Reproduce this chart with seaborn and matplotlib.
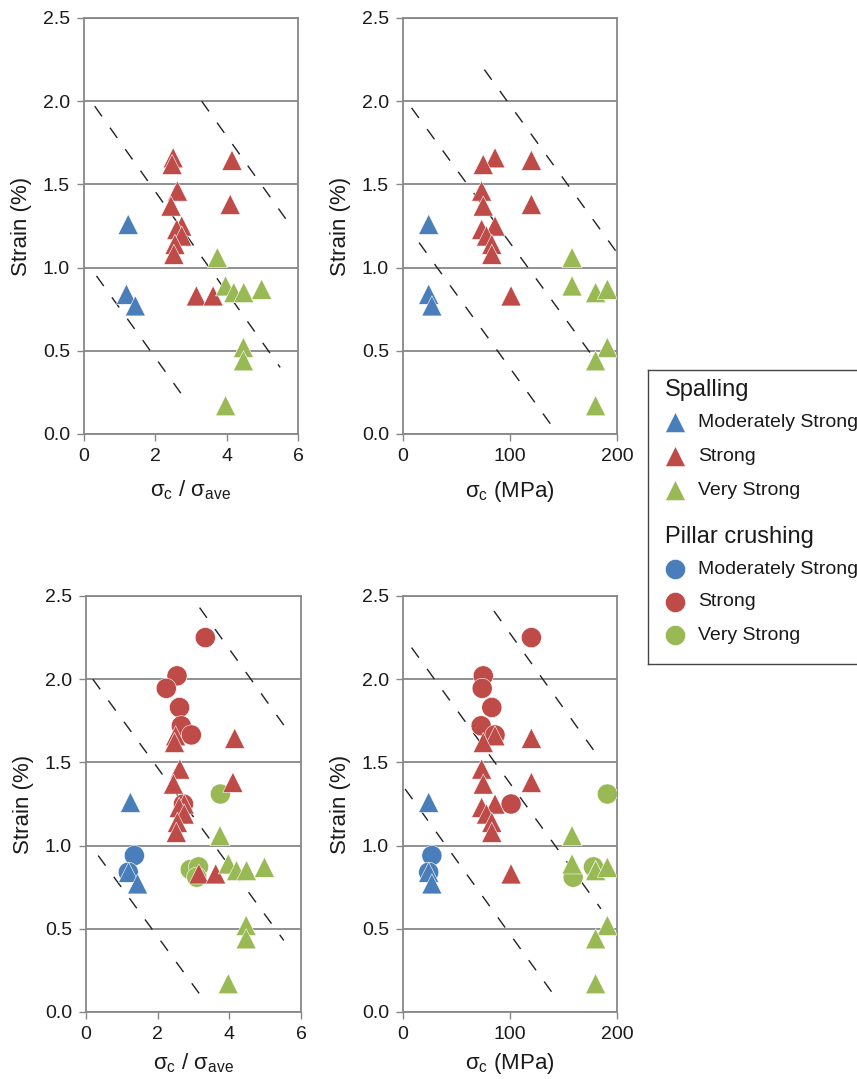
import numpy as np
import pandas as pd
import seaborn as sns
import matplotlib.pyplot as plt

classes = ['Moderately Strong', 'Strong', 'Very Strong']
palette = {'Moderately Strong': '#4A7EBB', 'Strong': '#BE4B48', 'Very Strong': '#98B954'}

# spalling cases
spall_class = (['Moderately Strong'] * 3 + ['Strong'] * 13 + ['Very Strong'] * 8)
spall_ratio = [1.24, 1.19, 1.44,
               2.50, 2.47, 4.15, 2.62, 2.44, 4.10, 2.74, 2.60, 2.74, 2.55, 2.52, 3.15, 3.62,
               3.74, 3.97, 4.20, 4.48, 4.98, 4.47, 4.47, 3.97]
spall_ucs = [24, 24, 27,
             86, 75, 120, 73.5, 75, 120, 86, 73.5, 78, 83, 83, 101, 101,
             158, 158, 180, 180, 191, 191, 180, 180]
spall_strain = [1.26, 0.84, 0.77,
                1.66, 1.62, 1.645, 1.46, 1.37, 1.38, 1.25, 1.23, 1.19, 1.14, 1.08, 0.83, 0.83,
                1.06, 0.89, 0.85, 0.85, 0.87, 0.52, 0.44, 0.17]

# pillar crushing cases
crush_class = (['Moderately Strong'] * 2 + ['Strong'] * 7 + ['Very Strong'] * 4)
crush_ratio = [1.35, 1.18,
               3.33, 2.54, 2.24, 2.61, 2.66, 2.94, 2.72,
               3.75, 2.91, 3.14, 3.09]
crush_ucs = [27, 24,
             120, 75, 74, 83, 73, 86, 101,
             191, 180, 178, 159]
crush_strain = [0.94, 0.84,
                2.25, 2.02, 1.945, 1.83, 1.72, 1.665, 1.25,
                1.31, 0.856, 0.872, 0.81]

# dashed guide lines per panel: (x0, y0, x1, y1)
guides_tl = [(0.3, 1.97, 5.5, 0.40), (0.35, 0.95, 2.9, 0.19), (3.3, 2.0, 5.8, 1.25)]
guides_tr = [(8, 1.96, 186, 0.39), (15, 1.15, 139, 0.05), (76, 2.19, 200, 1.09)]
guides_bl = [(0.19, 2.0, 5.52, 0.43), (0.34, 0.94, 3.3, 0.07), (3.17, 2.43, 5.7, 1.67)]
guides_br = [(8, 2.19, 185, 0.62), (2, 1.34, 139, 0.12), (85, 2.41, 183, 1.53)]

spall = pd.DataFrame({'mode': 'Spalling', 'severity': spall_class, 'ratio': spall_ratio,
                      'ucs': spall_ucs, 'strain': spall_strain})
crush = pd.DataFrame({'mode': 'Pillar crushing', 'severity': crush_class, 'ratio': crush_ratio,
                      'ucs': crush_ucs, 'strain': crush_strain})
both = pd.concat([crush, spall], ignore_index=True)  # circles under triangles

sns.set_style('white')
plt.rcParams['font.family'] = ['Liberation Sans', 'DejaVu Sans']
plt.rcParams['mathtext.default'] = 'regular'

GRAY = '#878787'
W, H = 857, 1079
fig = plt.figure(figsize=(W / 100, H / 100), dpi=100)


def rect(x0, y0, x1, y1):
    return [x0 / W, 1 - y1 / H, (x1 - x0) / W, (y1 - y0) / H]


lab_ratio = 'σ$_{c}$ / σ$_{ave}$'
lab_ucs = 'σ$_{c}$ (MPa)'
panels = [
    (rect(84, 18, 298, 434), spall, 'ratio', (0, 6), [0, 2, 4, 6], lab_ratio, guides_tl, 10),
    (rect(403, 18, 617, 434), spall, 'ucs', (0, 200), [0, 100, 200], lab_ucs, guides_tr, 10),
    (rect(86, 596, 301, 1012), both, 'ratio', (0, 6), [0, 2, 4, 6], lab_ratio, guides_bl, 6),
    (rect(403, 596, 617, 1012), both, 'ucs', (0, 200), [0, 100, 200], lab_ucs, guides_br, 6),
]

for pos, df, xcol, xlim, xticks, xlabel, guides, xpad in panels:
    ax = fig.add_axes(pos)
    for x0, y0, x1, y1 in guides:
        ax.plot([x0, x1], [y0, y1], color='#222222', lw=1, ls=(0, (9, 10)), zorder=1)
    sns.scatterplot(data=df, x=xcol, y='strain', hue='severity', hue_order=classes,
                    palette=palette, style='mode',
                    markers={'Spalling': '^', 'Pillar crushing': 'o'},
                    s=210, edgecolor='white', linewidth=0.4, legend=False, ax=ax, zorder=3)
    ax.set_xlim(*xlim)
    ax.set_ylim(0, 2.5)
    ax.set_xticks(xticks)
    ax.set_yticks(np.arange(0, 2.51, 0.5))
    ax.set_yticklabels([f'{v:.1f}' for v in np.arange(0, 2.51, 0.5)])
    ax.yaxis.grid(True, color=GRAY, lw=1.3)
    ax.set_axisbelow(True)
    for sp in ax.spines.values():
        sp.set_color(GRAY)
        sp.set_linewidth(1.3)
    ax.tick_params(axis='both', direction='out', length=5, width=1, color=GRAY,
                   labelsize=14, labelcolor='#1a1a1a', left=True, bottom=True, pad=5)
    ax.set_xlabel(xlabel, fontsize=16, color='#1a1a1a', labelpad=xpad)
    ax.set_ylabel('Strain (%)', fontsize=16, color='#1a1a1a', labelpad=8)

# legend box drawn as its own axes
lg = fig.add_axes(rect(648, 370, 878, 664))
lg.set_xlim(0, 230)
lg.set_ylim(294, 0)
lg.set_xticks([])
lg.set_yticks([])
for sp in lg.spines.values():
    sp.set_color('#444444')
    sp.set_linewidth(1)
lg.text(17, 20, 'Spalling', fontsize=17, va='center', ha='left', color='#1a1a1a')
lg.text(17, 167, 'Pillar crushing', fontsize=17, va='center', ha='left', color='#1a1a1a')
for i, c in enumerate(classes):
    yt = 52 + i * 34
    yc = 199 + i * 33
    lg.scatter([27], [yt], marker='^', s=210, color=palette[c], edgecolor='white', lw=0.4)
    lg.scatter([27], [yc], marker='o', s=210, color=palette[c], edgecolor='white', lw=0.4)
    lg.text(50, yt, c, fontsize=14, va='center', ha='left', color='#1a1a1a')
    lg.text(50, yc, c, fontsize=14, va='center', ha='left', color='#1a1a1a')

fig.savefig('out.png', dpi=100)
